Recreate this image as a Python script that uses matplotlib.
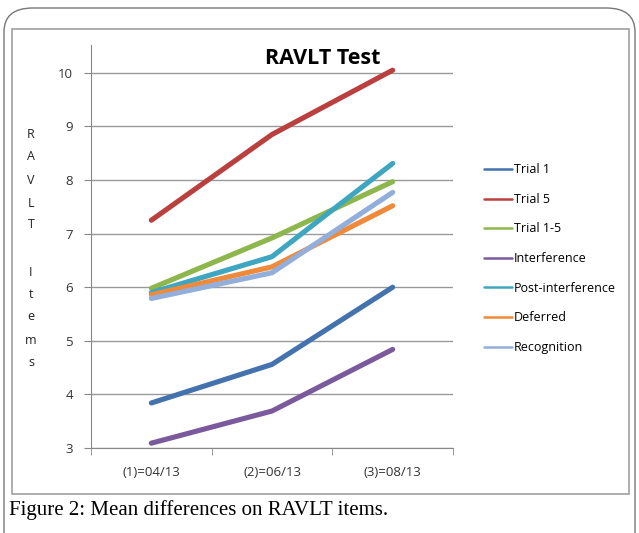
import matplotlib.pyplot as plt
from matplotlib.patches import FancyBboxPatch, Rectangle

## Data ##
dates = ["(1)=04/13", "(2)=06/13", "(3)=08/13"]
trial_1 = [3.84, 4.56, 6.00]
trial_5 = [7.25, 8.85, 10.05]
trial_1_5 = [5.98, 6.92, 7.97]
interference = [3.09, 3.69, 4.84]
post_interference = [5.90, 6.57, 8.31]
deferred = [5.86, 6.38, 7.52]
recognition = [5.79, 6.27, 7.77]

series = [
    ("Trial 1", trial_1, "#4372ad"),
    ("Trial 5", trial_5, "#b9403e"),
    ("Trial 1-5", trial_1_5, "#8db64c"),
    ("Interference", interference, "#7a5a9c"),
    ("Post-interference", post_interference, "#3ea6c0"),
    ("Deferred", deferred, "#ef8a3a"),
    ("Recognition", recognition, "#92aedb"),
]

W, H = 639, 533
fig = plt.figure(figsize=(W / 100, H / 100), dpi=100)

## Frames ##
outer = FancyBboxPatch((4 / W, -30 / H), 631 / W, (H - 8 + 30) / H,
                       boxstyle="round,pad=0,rounding_size=0.045",
                       transform=fig.transFigure, fill=False,
                       edgecolor="#777777", linewidth=1.0)
fig.patches.append(outer)
inner = Rectangle((12 / W, 1 - 494 / H), 617 / W, (494 - 29) / H,
                  transform=fig.transFigure, fill=False,
                  edgecolor="#a0a0a0", linewidth=1.2)
fig.patches.append(inner)

## Plot ##
ax = fig.add_axes([91 / W, 1 - 448 / H, (453 - 91) / W, (448 - 45) / H])
x = [1, 2, 3]
for name, vals, col in series:
    ax.plot(x, vals, color=col, linewidth=3.7, solid_capstyle="round",
            label=name)

ax.set_xlim(0.5, 3.5)
ax.set_ylim(3, 10.52)
ax.set_yticks(range(3, 11))
ax.yaxis.grid(True, color="#999999", linewidth=1.0)
ax.set_axisbelow(True)
ax.set_xticks(x)
ax.set_xticklabels(dates)
ax.set_xticks([0.5, 1.5, 2.5, 3.5], minor=True)
ax.tick_params(axis="x", which="major", length=0, pad=13,
               labelsize=9.5, labelcolor="#333333")
ax.tick_params(axis="x", which="minor", length=5, color="#888888")
ax.tick_params(axis="y", length=5, color="#888888", labelsize=9.5,
               labelcolor="#333333", pad=8)
for lab in ax.get_xticklabels() + ax.get_yticklabels():
    lab.set_fontfamily("Open Sans")
for s in ["top", "right"]:
    ax.spines[s].set_visible(False)
for s in ["left", "bottom"]:
    ax.spines[s].set_color("#888888")

fig.text(323 / W, 1 - 58 / H, "RAVLT Test", ha="center", va="center",
         fontsize=15.5, fontweight="bold", family="Open Sans")

## Vertical y label ##
letters = ["R", "A", "V", "L", "T", "I", "t", "e", "m", "s"]
ys = [135, 157, 180, 203, 225, 273, 295, 317, 340, 362]
for ch, yy in zip(letters, ys):
    fig.text(31 / W, 1 - yy / H, ch, ha="center", va="center",
             fontsize=9, family="Open Sans", color="#222222")

## Legend ##
leg = fig.legend(loc="upper left", bbox_to_anchor=(473 / W, 1 - 152 / H),
                 frameon=False, handlelength=2.2,
                 handletextpad=0.15, labelspacing=1.33,
                 prop={"family": "Open Sans", "size": 9})
for ln in leg.get_lines():
    ln.set_linewidth(1.8)

fig.text(9 / W, 1 - 510 / H, "Figure 2: Mean differences on RAVLT items.",
         ha="left", va="center", fontsize=15, family="Liberation Serif")

fig.savefig("out.png", dpi=100)
